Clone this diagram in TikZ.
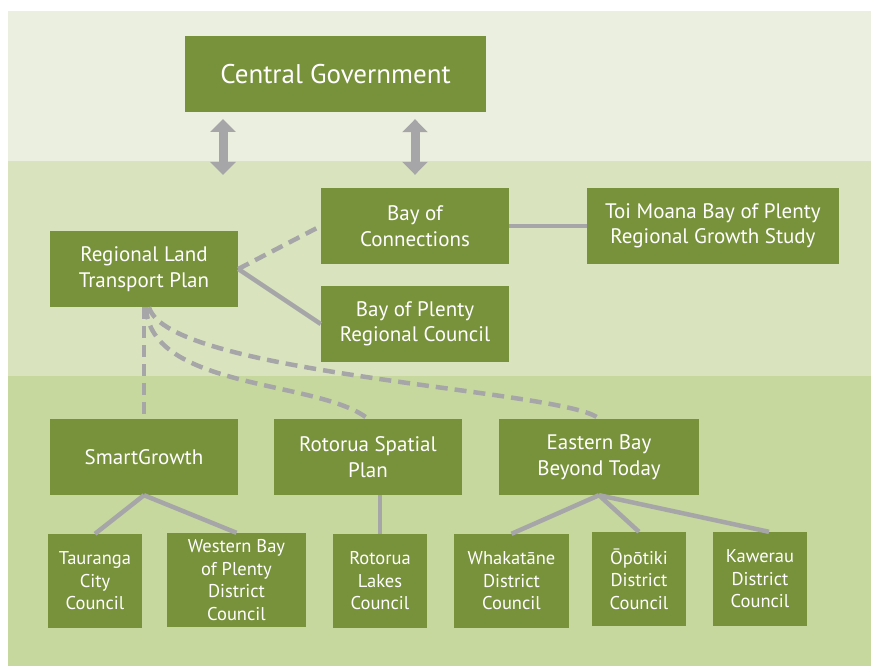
\documentclass[tikz,border=0pt]{standalone}
\usepackage{fontspec}
\setmainfont{PT Sans}
\usetikzlibrary{arrows.meta}

\definecolor{boxgreen}{HTML}{78923C}
\definecolor{bandtop}{HTML}{EBEFDF}
\definecolor{bandmid}{HTML}{D9E4BF}
\definecolor{bandlow}{HTML}{C6D89E}
\definecolor{linkgrey}{HTML}{A6A6A8}

\begin{document}
\begin{tikzpicture}[x=1pt, y=-1pt,
  box/.style={fill=boxgreen, text=white, align=center, inner sep=0pt,
    minimum width=188pt, minimum height=76pt, font=\fontsize{21}{25.5}\selectfont},
  council/.style={box, minimum width=94pt, minimum height=94pt, font=\fontsize{18.5}{22.5}\selectfont},
  link/.style={draw=linkgrey, line width=4.5pt},
  weaklink/.style={link, dash pattern=on 12pt off 7pt},
  twoway/.style={draw=linkgrey, line width=9pt,
    {Triangle[width=25pt,length=13pt]}-{Triangle[width=25pt,length=13pt]}}]
  \useasboundingbox (0, 0) rectangle (871, 666);
  \fill[white] (0, 0) rectangle (871, 666);

  % three levels
  \fill[bandtop] (8, 11)  rectangle (871, 161);
  \fill[bandmid] (8, 161) rectangle (871, 376);
  \fill[bandlow] (8, 376) rectangle (871, 666);

  \node[box, minimum width=301pt, font=\fontsize{27}{32}\selectfont] (cg) at (335.5, 74) {Central Government};

  \node[box] (boc)  at (415, 226) {Bay of\\Connections};
  \node[box, minimum width=252pt] (toi) at (713, 226) {Toi Moana Bay of Plenty\\Regional Growth Study};
  \node[box] (rltp) at (144, 269) {Regional Land\\Transport Plan};
  \node[box] (bopc) at (415, 324) {Bay of Plenty\\Regional Council};

  \node[box] (sg)   at (144, 457) {SmartGrowth};
  \node[box] (rsp)  at (368, 457) {Rotorua Spatial\\Plan};
  \node[box, minimum width=200pt] (ebbt) at (599, 457) {Eastern Bay\\Beyond Today};

  \node[council] (tcc)  at (95, 581)    {Tauranga\\City\\Council};
  \node[council, minimum width=139pt] (wbop) at (236.5, 580) {Western Bay\\of Plenty\\District\\Council};
  \node[council] (rlc)  at (380, 581)   {Rotorua\\Lakes\\Council};
  \node[council, minimum width=115pt] (wdc) at (511.5, 581) {Whakatāne\\District\\Council};
  \node[council] (odc)  at (639, 579)   {Ōpōtiki\\District\\Council};
  \node[council] (kdc)  at (760, 579)   {Kawerau\\District\\Council};

  % links to central government
  \coordinate (rtop) at (223, 119);
  \coordinate (rbot) at (223, 175);
  \draw[twoway] (rtop) -- (rbot);
  \draw[twoway, shorten <=7pt, shorten >=13pt] (cg.south -| boc.north) -- (boc.north);

  \draw[link] (boc) -- (toi);
  \draw[weaklink] (rltp.east) -- (boc.west);
  \draw[link] (rltp.east) -- (bopc.west);

  \draw[weaklink] (rltp.south) -- (sg.north);
  \draw[weaklink] ([xshift=2pt]rltp.south) .. controls (150, 390) and (320, 380) .. (rsp.north);
  \draw[weaklink] ([xshift=5pt]rltp.south) .. controls (168, 375) and (570, 390) .. (ebbt.north);

  \draw[link] (sg.south) -- (tcc.north);
  \draw[link] (sg.south) -- (wbop.north);
  \draw[link] (rsp.south -| rlc.north) -- (rlc.north);
  \draw[link] (ebbt.south) -- (wdc.north);
  \draw[link] (ebbt.south) -- (odc.north);
  \draw[link] (ebbt.south) -- ([xshift=9pt]kdc.north);
\end{tikzpicture}
\end{document}
